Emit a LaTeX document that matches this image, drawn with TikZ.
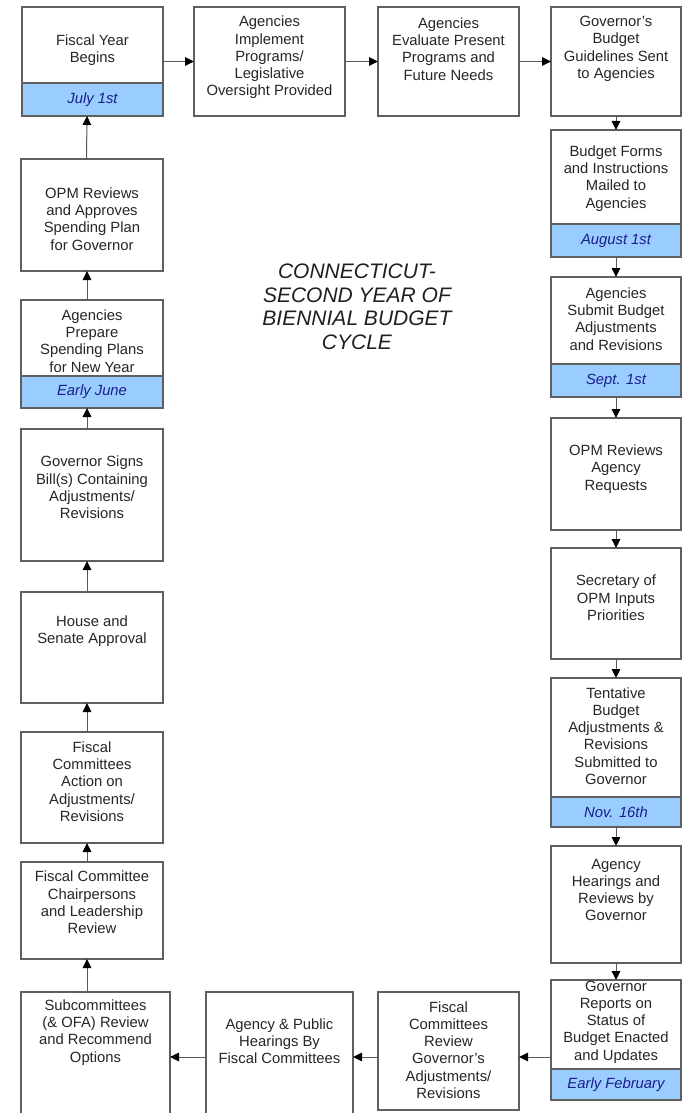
\documentclass[tikz,border=0pt]{standalone}
\usepackage{fontspec}
\setmainfont{Liberation Sans}
\usetikzlibrary{arrows.meta}
\definecolor{bandblue}{HTML}{99CCFF}
\definecolor{datenavy}{HTML}{1C1C8C}
\definecolor{boxgray}{HTML}{5F5F5F}
\begin{document}
\begin{tikzpicture}[x=1pt,y=-1pt]
        \tikzstyle{stepbox}=[rectangle, draw=boxgray, line width=1.2pt, fill=white, anchor=north west, inner sep=0pt, outer sep=0pt]
        \tikzstyle{dateband}=[stepbox, fill=bandblue, font=\fontsize{14.8}{17.3}\selectfont\itshape, text=datenavy]
        \tikzstyle{steptext}=[align=center, inner sep=0pt, font=\fontsize{14.8}{17.3}\selectfont, text=black!85]
        \tikzstyle{flow}=[-{Triangle[length=9pt,width=8.5pt,color=black]}, line width=1pt, draw=black!65]
        \useasboundingbox (0,0) rectangle (684,1113);
        \clip (0,0) rectangle (684,1113);
        % top row
        \node[stepbox, minimum width=141pt, minimum height=109pt] (fy) at (22,7) {};
        \node[dateband, minimum width=141pt, minimum height=33pt] (fyd) at (22,83) {July 1st};
        \node[steptext] (fyt) at (92.5,50) {Fiscal Year\\Begins};
        \node[stepbox, minimum width=151pt, minimum height=109pt] (impl) at (194,7) {};
        \node[steptext] (implt) at (269.5,57.5) {Agencies\\Implement\\Programs/\\Legislative\\Oversight Provided};
        \node[stepbox, minimum width=141pt, minimum height=109pt] (eval) at (378,7) {};
        \node[steptext] (evalt) at (448.5,49) {Agencies\\Evaluate Present\\Programs and\\Future Needs};
        \node[stepbox, minimum width=130pt, minimum height=109pt] (guide) at (551,7) {};
        \node[steptext] (guidet) at (616,49) {Governor's\\Budget\\Guidelines Sent\\to Agencies};
        % right column
        \node[stepbox, minimum width=130pt, minimum height=127pt] (forms) at (551,130) {};
        \node[dateband, minimum width=130pt, minimum height=33pt] (formsd) at (551,224) {August 1st};
        \node[steptext] (formst) at (616,178.5) {Budget Forms\\and Instructions\\Mailed to\\Agencies};
        \node[stepbox, minimum width=130pt, minimum height=120pt] (submit) at (551,277) {};
        \node[dateband, minimum width=130pt, minimum height=33pt] (submitd) at (551,364) {Sept. 1st};
        \node[steptext] (submitt) at (616,319) {Agencies\\Submit Budget\\Adjustments\\and Revisions};
        \node[stepbox, minimum width=130pt, minimum height=112pt] (opmrev) at (551,418) {};
        \node[steptext] (opmrevt) at (616,469) {OPM Reviews\\Agency\\Requests};
        \node[stepbox, minimum width=130pt, minimum height=111pt] (secr) at (551,548) {};
        \node[steptext] (secrt) at (616,598) {Secretary of\\OPM Inputs\\Priorities};
        \node[stepbox, minimum width=130pt, minimum height=149pt] (tent) at (551,678) {};
        \node[dateband, minimum width=130pt, minimum height=30pt] (tentd) at (551,797) {Nov. 16th};
        \node[steptext] (tentt) at (616,736) {Tentative\\Budget\\Adjustments \&\\Revisions\\Submitted to\\Governor};
        \node[stepbox, minimum width=130pt, minimum height=117pt] (hear) at (551,846) {};
        \node[steptext] (heart) at (616,890) {Agency\\Hearings and\\Reviews by\\Governor};
        \node[stepbox, minimum width=130pt, minimum height=120pt] (report) at (551,980) {};
        \node[dateband, minimum width=130pt, minimum height=31pt] (reportd) at (551,1069) {Early February};
        \node[steptext] (reportt) at (616,1022) {Governor\\Reports on\\Status of\\Budget Enacted\\and Updates};
        % bottom row
        \node[stepbox, minimum width=141pt, minimum height=118pt] (fcrev) at (378,992) {};
        \node[steptext] (fcrevt) at (448.5,1050) {Fiscal\\Committees\\Review\\Governor's\\Adjustments/\\Revisions};
        \node[stepbox, minimum width=147pt, minimum height=130pt] (pubhear) at (206,992) {};
        \node[steptext] (pubheart) at (279.5,1041) {Agency \& Public\\Hearings By\\Fiscal Committees};
        \node[stepbox, minimum width=149pt, minimum height=130pt] (subcom) at (21,992) {};
        \node[steptext] (subcomt) at (95.5,1032.5) {Subcommittees\\(\& OFA) Review\\and Recommend\\Options};
        % left column
        \node[stepbox, minimum width=142pt, minimum height=97pt] (chair) at (21,862) {};
        \node[steptext] (chairt) at (92,902.5) {Fiscal Committee\\Chairpersons\\and Leadership\\Review};
        \node[stepbox, minimum width=142pt, minimum height=111pt] (action) at (21,732) {};
        \node[steptext] (actiont) at (92,781.5) {Fiscal\\Committees\\Action on\\Adjustments/\\Revisions};
        \node[stepbox, minimum width=142pt, minimum height=111pt] (house) at (21,592) {};
        \node[steptext] (houset) at (92,631.5) {House and\\Senate Approval};
        \node[stepbox, minimum width=142pt, minimum height=132pt] (signs) at (21,429) {};
        \node[steptext] (signst) at (92,487.5) {Governor Signs\\Bill(s) Containing\\Adjustments/\\Revisions};
        \node[stepbox, minimum width=142pt, minimum height=108pt] (prep) at (21,300) {};
        \node[dateband, minimum width=142pt, minimum height=32pt] (prepd) at (21,376) {Early June};
        \node[steptext] (prept) at (92,341) {Agencies\\Prepare\\Spending Plans\\for New Year};
        \node[stepbox, minimum width=142pt, minimum height=112pt] (approve) at (21,159) {};
        \node[steptext] (approvet) at (92,219) {OPM Reviews\\and Approves\\Spending Plan\\for Governor};
        % title
        \node[align=center, font=\fontsize{21}{23.5}\selectfont\itshape, text=black!88] (title) at (357,307) {CONNECTICUT-\\SECOND YEAR OF\\BIENNIAL BUDGET\\CYCLE};
        % connectors
        \draw[flow] (fy) -- (impl);
        \draw[flow] (impl) -- (eval);
        \draw[flow] (eval) -- (guide);
        \draw[flow] (guide) -- (forms);
        \draw[flow] (forms) -- (submit);
        \draw[flow] (submit) -- (opmrev);
        \draw[flow] (opmrev) -- (secr);
        \draw[flow] (secr) -- (tent);
        \draw[flow] (tent) -- (hear);
        \draw[flow] (hear) -- (report);
        \draw[flow] ([yshift=-17pt]report.west) -- ([yshift=-6pt]fcrev.east);
        \draw[flow] ([yshift=-6pt]fcrev.west) -- (pubhear);
        \draw[flow] (pubhear) -- (subcom);
        \draw[flow] ([xshift=-8.5pt]subcom.north) -- ([xshift=-5pt]chair.south);
        \draw[flow] ([xshift=-5pt]chair.north) -- ([xshift=-5pt]action.south);
        \draw[flow] ([xshift=-5pt]action.north) -- ([xshift=-5pt]house.south);
        \draw[flow] ([xshift=-5pt]house.north) -- ([xshift=-5pt]signs.south);
        \draw[flow] ([xshift=-5pt]signs.north) -- ([xshift=-5pt]prep.south);
        \draw[flow] ([xshift=-5pt]prep.north) -- ([xshift=-5pt]approve.south);
        \draw[flow] ([xshift=-5.5pt]approve.north) -- ([xshift=-5.5pt]fy.south);
\end{tikzpicture}
\end{document}
